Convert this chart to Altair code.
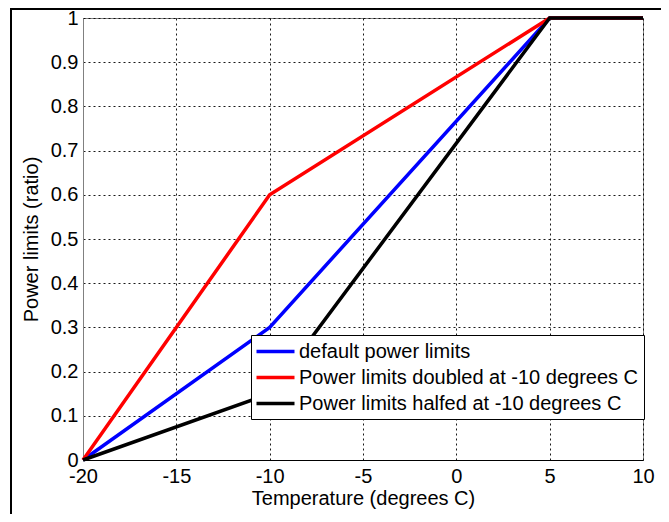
import altair as alt
import pandas as pd

temps = [-20, -10, 5, 10]
default_limits = [0, 0.3, 1, 1]
doubled_limits = [0, 0.6, 1, 1]
halfed_limits = [0, 0.15, 1, 1]

series_names = [
    "default power limits",
    "Power limits doubled at -10 degrees C",
    "Power limits halfed at -10 degrees C",
]
series_colors = ["#0000ff", "#ff0000", "#000000"]
x_ticks = [-20, -15, -10, -5, 0, 5, 10]
y_ticks = [0, 0.1, 0.2, 0.3, 0.4, 0.5, 0.6, 0.7, 0.8, 0.9, 1]

rows = []
for name, vals in zip(series_names, [default_limits, doubled_limits, halfed_limits]):
    for t, v in zip(temps, vals):
        rows.append({"temp": t, "ratio": v, "series": name})
df = pd.DataFrame(rows)

FONT = "Liberation Sans"

x_enc = alt.X(
    "temp:Q",
    scale=alt.Scale(domain=[-20, 10], nice=False, zero=False),
    axis=alt.Axis(
        values=x_ticks, title="Temperature (degrees C)", grid=True,
        ticks=False, tickSize=0, labelPadding=6, titlePadding=2,
        labelFlush=False, labelOverlap=False, domainColor="#000000",
        labelExpr="'' + datum.value",
    ),
)
y_enc = alt.Y(
    "ratio:Q",
    scale=alt.Scale(domain=[0, 1], nice=False, zero=False),
    axis=alt.Axis(
        values=y_ticks, title="Power limits (ratio)", grid=True,
        ticks=False, tickSize=0, labelPadding=5, titlePadding=9,
        labelFlush=False, labelOverlap=False, domainColor="#808080",
        labelExpr="datum.value == 0 ? '0' : datum.value == 1 ? '1' : format(datum.value, '.1f')",
    ),
)
color_enc = alt.Color(
    "series:N",
    scale=alt.Scale(domain=series_names, range=series_colors),
    legend=alt.Legend(
        title=None, orient="none", legendX=168, legendY=317,
        fillColor="#ffffff", strokeColor="#000000", padding=5,
        symbolType="M-2,0H2", symbolSize=361, symbolStrokeWidth=3.5,
        symbolOffset=8,
        labelFontSize=20, labelFont=FONT, labelOffset=12, rowPadding=4,
        labelLimit=500, labelColor="#000000",
    ),
)

layers = []
for name in series_names:
    layers.append(
        alt.Chart(df)
        .transform_filter(alt.datum.series == name)
        .mark_line(strokeWidth=3.5)
        .encode(x=x_enc, y=y_enc, color=color_enc)
    )

frame_top = alt.Chart(pd.DataFrame({"k": [0]})).mark_rule(color="#000000", strokeWidth=2).encode(
    x=alt.value(-72), x2=alt.value(600), y=alt.value(-9)
)
frame_left = alt.Chart(pd.DataFrame({"k": [0]})).mark_rule(color="#000000", strokeWidth=2).encode(
    x=alt.value(-72), y=alt.value(-10), y2=alt.value(520)
)

chart = (
    alt.layer(*layers, frame_top, frame_left)
    .properties(
        width=560, height=442,
        autosize=alt.AutoSizeParams(type="none"),
        padding={"left": 75, "top": 10, "right": 18, "bottom": 54},
        background="#ffffff",
    )
    .configure_view(stroke="#808080", strokeWidth=1)
    .configure_axis(
        labelFont=FONT, titleFont=FONT, labelFontSize=20, titleFontSize=20,
        labelColor="#000000", titleColor="#000000", titleFontWeight="normal",
        gridColor="#000000", gridDash=[2, 3], gridWidth=1, gridOpacity=0.9,
        domainWidth=1,
    )
)

chart.save("out.html", embed_options={"renderer": "svg", "actions": False})
